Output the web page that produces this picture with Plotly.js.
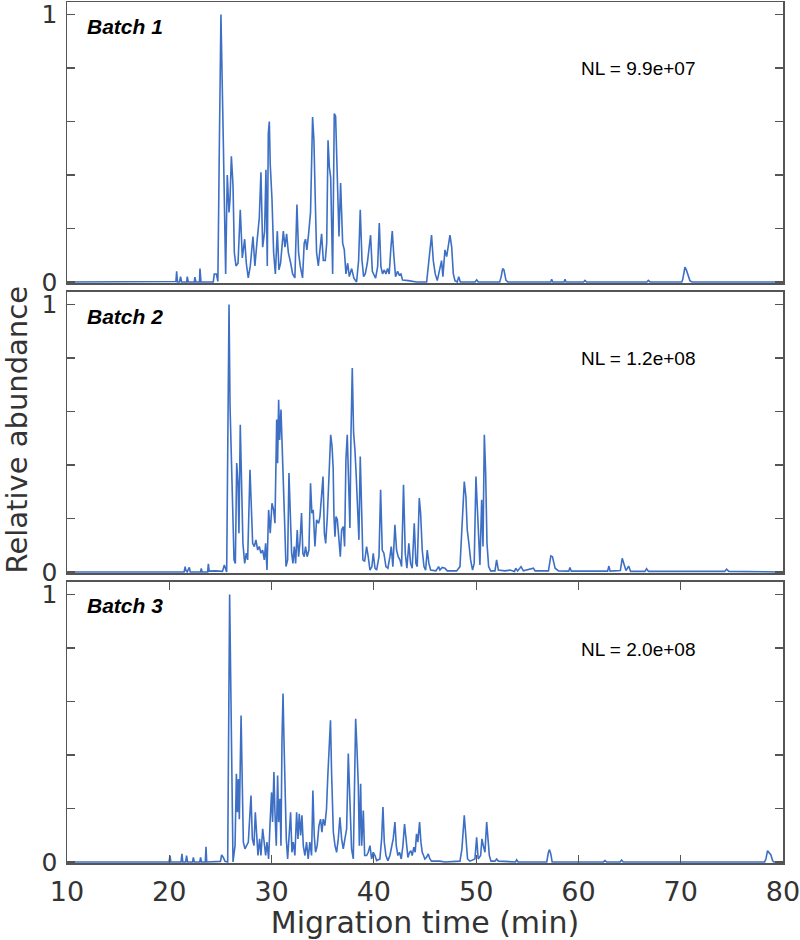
<!DOCTYPE html>
<html>
<head>
<meta charset="utf-8">
<script src="https://cdn.plot.ly/plotly-3.0.1.min.js"></script>
<style>html,body{margin:0;padding:0;background:#fff;}#chart{width:800px;height:940px;}</style>
</head>
<body>
<div id="chart"></div>
<script>
// ---------- Data ----------
const batchNames = ["Batch 1", "Batch 2", "Batch 3"];
const normLevels = ["NL = 9.9e+07", "NL = 1.2e+08", "NL = 2.0e+08"];
const xTickVals = [10, 20, 30, 40, 50, 60, 70, 80];
const yTickVals = [0, 0.2, 0.4, 0.6, 0.8, 1];
const yTickText = ["0", "", "", "", "", "1"];
const xTitle = "Migration time (min)";
const yTitle = "Relative abundance";

const time1 = [10,20.5,20.65,20.72,20.8,21.0,21.1,21.2,21.7,21.76,21.85,22.45,22.5,22.6,22.95,23.0,23.1,24.3,24.4,24.6,24.75,24.9,25.05,25.28,25.51,25.67,25.84,25.94,26.07,26.23,26.36,26.52,26.72,26.94,27.14,27.37,27.53,27.72,27.92,28.18,28.37,28.6,28.8,28.96,29.13,29.32,29.45,29.58,29.68,29.78,29.87,30.04,30.2,30.37,30.56,30.72,30.88,31.15,31.31,31.47,31.64,31.87,32.06,32.28,32.48,32.64,32.8,33.03,33.19,33.32,33.45,33.62,33.81,34.01,34.14,34.27,34.4,34.57,34.73,34.89,35.06,35.25,35.39,35.52,35.65,35.78,35.97,36.13,36.26,36.43,36.59,36.75,36.85,36.95,37.11,37.27,37.44,37.6,37.83,38.05,38.31,38.51,38.67,38.84,39.0,39.16,39.36,39.52,39.68,39.85,40.0,40.17,40.37,40.53,40.69,40.85,41.02,41.18,41.34,41.5,41.67,41.8,41.96,42.12,42.32,42.48,42.65,42.81,43.37,44.18,45.16,45.42,45.64,45.81,46.0,46.2,46.46,46.62,46.75,46.95,47.12,47.28,47.44,47.61,47.77,47.93,48.15,48.3,48.45,49.9,50.05,50.2,52.3,52.45,52.59,52.72,52.91,53.1,57.3,57.38,57.5,58.6,58.68,58.8,60.5,60.64,60.8,66.7,66.83,67.0,70.1,70.2,70.41,70.55,70.64,70.9,71.1,80];
const abund1 = [0,0,0.002,0.04,0,0,0.02,0,0,0.02,0,0,0.018,0,0,0.05,0,0,0.03,0.03,0.002,0.53,1.0,0.53,0.03,0.40,0.26,0.31,0.47,0.36,0.11,0.06,0.07,0.27,0.09,0.16,0.07,0.015,0.06,0.17,0.06,0.16,0.24,0.41,0.13,0.19,0.42,0.06,0.555,0.60,0.44,0.31,0.11,0.03,0.19,0.045,0.07,0.19,0.13,0.18,0.11,0.07,0.03,0.015,0.29,0.11,0.06,0.015,0.145,0.16,0.12,0.18,0.26,0.617,0.53,0.31,0.11,0.06,0.11,0.18,0.08,0.08,0.145,0.53,0.43,0.39,0.03,0.63,0.62,0.43,0.17,0.37,0.28,0.145,0.12,0.03,0.07,0.02,0.05,0.014,0.0,0.08,0.27,0.08,0.02,0.03,0.07,0.12,0.175,0.04,0.03,0.014,0.057,0.22,0.057,0.03,0.045,0.03,0.05,0.03,0.13,0.19,0.095,0.02,0.04,0.026,0.03,0.007,0.005,0.0,0.0,0.095,0.175,0.08,0.03,0.005,0.045,0.08,0.02,0.12,0.095,0.145,0.175,0.13,0.03,0.005,0.0,0.02,0.0,0.0,0.008,0.0,0.0,0.02,0.05,0.045,0.007,0.0,0.0,0.01,0.0,0.0,0.01,0.0,0.0,0.006,0.0,0.0,0.006,0.0,0.0,0.01,0.055,0.045,0.035,0.005,0.0,0];

const time2 = [10,21.45,21.55,21.63,21.75,21.96,22.05,23.05,23.13,23.2,23.75,23.82,23.9,24.5,25.2,25.38,25.61,25.74,25.84,25.94,26.04,26.2,26.33,26.46,26.59,26.72,26.81,26.94,27.07,27.2,27.37,27.53,27.66,27.76,27.89,28.02,28.15,28.31,28.47,28.64,28.8,28.96,29.13,29.29,29.42,29.55,29.71,29.87,30.04,30.2,30.33,30.5,30.59,30.69,30.79,30.92,31.02,31.15,31.28,31.41,31.57,31.7,31.83,31.96,32.09,32.22,32.35,32.51,32.64,32.77,32.93,33.06,33.19,33.32,33.48,33.65,33.81,33.94,34.07,34.24,34.4,34.6,34.73,34.86,35.03,35.16,35.29,35.45,35.62,35.78,35.91,36.02,36.1,36.2,36.3,36.43,36.59,36.72,36.85,37.01,37.14,37.27,37.4,37.53,37.66,37.76,37.89,38.02,38.15,38.28,38.41,38.54,38.67,38.8,38.93,39.1,39.29,39.45,39.62,39.81,39.94,40.11,40.27,40.5,40.66,40.82,40.98,41.18,41.37,41.57,41.7,41.86,42.06,42.22,42.38,42.55,42.71,42.9,43.07,43.23,43.42,43.59,43.75,43.95,44.11,44.24,44.44,44.57,44.73,44.9,45.06,45.22,45.38,45.55,46.07,46.33,46.46,46.69,46.95,47.18,48.09,48.42,48.61,48.84,49.0,49.13,49.29,49.46,49.65,49.81,49.98,50.11,50.24,50.37,50.54,50.67,50.8,50.93,51.06,51.22,51.42,51.84,52.0,52.17,52.82,53.31,53.75,53.87,54.06,54.39,54.62,55.6,55.76,57.07,57.3,57.46,57.72,58.05,59.05,59.17,59.3,62.85,62.98,63.1,64.1,64.28,64.45,64.65,64.91,65.1,66.5,66.66,66.85,74.3,74.48,74.7,80];
const abund2 = [0,0,0.02,0.005,0,0.017,0,0,0.013,0,0,0.03,0.003,0.004,0.002,0.026,0,0.557,1.0,0.62,0.457,0.307,0.045,0.032,0.407,0.332,0.145,0.55,0.357,0.107,0.032,0.07,0.045,0.182,0.382,0.245,0.107,0.095,0.12,0.082,0.095,0.07,0.082,0.045,0.107,0.007,0.232,0.145,0.257,0.232,0.182,0.57,0.407,0.644,0.494,0.607,0.507,0.357,0.182,0.02,0.045,0.37,0.182,0.07,0.032,0.095,0.032,0.157,0.057,0.107,0.22,0.07,0.057,0.095,0.057,0.082,0.332,0.22,0.232,0.095,0.195,0.182,0.207,0.282,0.357,0.145,0.107,0.207,0.407,0.513,0.47,0.39,0.207,0.132,0.207,0.195,0.12,0.057,0.157,0.17,0.095,0.42,0.513,0.357,0.164,0.507,0.763,0.52,0.457,0.357,0.207,0.12,0.432,0.245,0.045,0.039,0.095,0.057,0.007,0.02,0.07,0.014,0.007,0.057,0.307,0.082,0.07,0.02,0.014,0.057,0.095,0.02,0.176,0.082,0.057,0.045,0.02,0.326,0.07,0.014,0.107,0.032,0.014,0.182,0.032,0.02,0.276,0.22,0.082,0.02,0.007,0.082,0.032,0.007,0.004,0.02,0.007,0.017,0.014,0.004,0.004,0.02,0.182,0.338,0.282,0.157,0.107,0.045,0.007,0.032,0.357,0.232,0.082,0.026,0.27,0.095,0.513,0.37,0.107,0.02,0.004,0.004,0.045,0.007,0.004,0.007,0.002,0.014,0.004,0.02,0.004,0.014,0.004,0.004,0.06,0.057,0.014,0.004,0.003,0.017,0.003,0.003,0.022,0.003,0.005,0.051,0.03,0.005,0.022,0.002,0.002,0.012,0.002,0.002,0.01,0.002,0];

const time3 = [10,19.98,20.07,20.15,21.15,21.24,21.32,21.6,21.69,21.78,22.28,22.35,22.45,22.98,23.06,23.15,23.52,23.59,23.66,25.0,25.12,25.28,25.45,25.71,25.9,26.07,26.23,26.43,26.56,26.66,26.75,26.85,27.02,27.14,27.24,27.4,27.56,27.73,27.89,27.99,28.12,28.28,28.41,28.54,28.67,28.83,28.96,29.13,29.26,29.42,29.55,29.71,29.87,30.0,30.1,30.23,30.33,30.46,30.59,30.69,30.82,30.92,31.02,31.12,31.21,31.34,31.44,31.57,31.7,31.86,31.99,32.12,32.28,32.45,32.58,32.71,32.84,32.97,33.1,33.26,33.42,33.58,33.74,33.91,34.04,34.17,34.3,34.46,34.63,34.79,34.92,35.05,35.21,35.37,35.5,35.63,35.76,35.87,36.04,36.2,36.36,36.52,36.68,36.85,37.01,37.17,37.34,37.5,37.66,37.82,37.99,38.12,38.22,38.35,38.48,38.58,38.71,38.81,38.97,39.1,39.29,39.45,39.62,39.78,39.94,40.11,40.27,40.59,40.76,40.89,41.02,41.18,41.37,41.57,41.73,41.89,42.06,42.19,42.35,42.51,42.68,42.84,43.0,43.17,43.33,43.49,43.62,43.75,43.91,44.04,44.17,44.3,44.47,44.6,44.73,44.86,44.99,45.15,45.32,45.48,45.64,46.46,46.95,48.42,48.61,48.84,49.0,49.16,49.39,49.88,50.05,50.2,50.44,50.57,50.7,50.86,51.03,51.16,51.29,51.45,51.84,52.0,52.17,53.85,53.96,54.1,56.9,57.07,57.17,57.3,57.43,62.45,62.59,62.75,64.08,64.22,64.38,78.2,78.33,78.49,78.65,78.82,78.98,79.1,80];
const abund3 = [0,0,0.024,0,0,0.03,0,0,0.024,0,0,0.017,0,0,0.017,0,0,0.057,0,0.002,0.026,0.017,0.002,0,1.0,0.436,0,0.061,0.33,0.186,0.31,0.16,0.548,0.286,0.074,0.049,0.061,0.074,0.186,0.248,0.086,0.061,0.186,0.111,0.024,0.086,0.024,0.124,0.074,0.024,0.074,0.011,0.16,0.26,0.149,0.336,0.186,0.061,0.323,0.149,0.236,0.061,0.46,0.63,0.46,0.248,0.086,0.011,0.074,0.186,0.036,0.074,0.024,0.186,0.086,0.18,0.099,0.174,0.061,0.024,0.074,0.011,0.074,0.024,0.267,0.099,0.036,0.061,0.136,0.16,0.111,0.16,0.136,0.198,0.323,0.436,0.53,0.33,0.111,0.061,0.036,0.086,0.167,0.086,0.049,0.086,0.124,0.405,0.2,0.049,0.011,0.36,0.535,0.423,0.286,0.061,0.292,0.061,0.192,0.024,0.024,0.036,0.061,0.011,0.036,0.024,0.005,0.011,0.086,0.205,0.074,0.024,0.005,0.024,0.061,0.086,0.149,0.061,0.024,0.036,0.011,0.061,0.142,0.061,0.017,0.036,0.042,0.024,0.055,0.036,0.105,0.074,0.149,0.074,0.036,0.024,0.011,0.017,0.03,0.011,0.003,0.003,0,0.003,0.049,0.174,0.086,0.011,0.003,0.011,0.092,0.011,0.024,0.086,0.061,0.036,0.149,0.074,0.024,0.003,0.003,0.011,0.003,0.0,0.008,0.0,0.0,0.036,0.046,0.03,0.0,0.0,0.005,0.0,0.0,0.007,0.0,0.0,0.011,0.042,0.036,0.026,0.005,0.0,0];

// ---------- Styling ----------
const lineColor = '#3d6fc5';
const frameColor = '#555555';
const textColor = '#333333';
const labelFont = 'Liberation Sans, Arial, Helvetica, sans-serif';
const axisFont = 'DejaVu Sans, Liberation Sans, Arial, sans-serif';

const times = [time1, time2, time3];
const abunds = [abund1, abund2, abund3];
const axSuffix = ['', '2', '3'];

const traces = times.map((t, i) => ({
  type: 'scatter', mode: 'lines',
  x: t, y: abunds[i],
  xaxis: 'x' + axSuffix[i], yaxis: 'y' + axSuffix[i],
  line: {color: lineColor, width: 1.6},
  hoverinfo: 'x+y', name: batchNames[i]
}));

// panel geometry in paper fraction
const domains = [[0.6736, 1.0], [0.3368, 0.6632], [0.0, 0.3264]];
const yRange = [-0.004, 1.047];

function yAxis(i) {
  return {
    domain: domains[i], anchor: 'x' + axSuffix[i], range: yRange,
    tickmode: 'array', tickvals: yTickVals, ticktext: yTickText,
    ticks: 'inside', ticklen: 8, tickwidth: 1.2, tickcolor: frameColor,
    showline: true, linecolor: frameColor, linewidth: 1.5, mirror: 'ticks',
    showgrid: false, zeroline: false, fixedrange: true,
    tickfont: {size: 25, color: textColor, family: axisFont},
    ticklabelstandoff: 3, ticklabeloverflow: 'allow'
  };
}
function xAxis(i) {
  const ax = {
    anchor: 'y' + axSuffix[i], range: [10, 80], domain: [0, 1],
    showline: true, linecolor: frameColor, linewidth: 1.5, mirror: true,
    showgrid: false, zeroline: false, fixedrange: true,
    ticks: '', showticklabels: false
  };
  if (i === 2) {
    Object.assign(ax, {
      tickmode: 'array', tickvals: xTickVals, ticktext: xTickVals.map(String),
      ticks: 'inside', ticklen: 8, tickwidth: 1.2, tickcolor: frameColor,
      mirror: 'ticks', showticklabels: true, ticklabeloverflow: 'allow',
      tickfont: {size: 27, color: textColor, family: axisFont},
      ticklabelstandoff: 4,
      title: {text: xTitle, font: {size: 30, color: textColor, family: axisFont}, standoff: 2}
    });
  } else {
    ax.matches = 'x3';
  }
  return ax;
}

// label positions (paper fraction) for each panel
const batchLabelY = [0.9721, 0.6353, 0.2985];
const nlLabelY = [0.9233, 0.5854, 0.2485];

const annotations = [];
batchNames.forEach((b, i) => {
  annotations.push({
    xref: 'paper', yref: 'paper', x: 0.0251, y: batchLabelY[i],
    xanchor: 'left', yanchor: 'middle', showarrow: false,
    text: '<b><i>' + b + '</i></b>',
    font: {size: 21, color: '#000', family: labelFont}
  });
  annotations.push({
    xref: 'paper', yref: 'paper', x: 0.715, y: nlLabelY[i],
    xanchor: 'left', yanchor: 'middle', showarrow: false,
    text: normLevels[i],
    font: {size: 19, color: '#000', family: labelFont}
  });
});
// y-axis title shared by the three panels
annotations.push({
  xref: 'paper', yref: 'paper', x: -0.0705, y: 0.503,
  xanchor: 'center', yanchor: 'middle', showarrow: false,
  textangle: -90, text: yTitle,
  font: {size: 29, color: textColor, family: axisFont}
});

const layout = {
  width: 800, height: 940,
  margin: {l: 67, r: 17, t: 2, b: 77},
  paper_bgcolor: '#ffffff', plot_bgcolor: '#ffffff',
  showlegend: false,
  font: {family: axisFont, color: textColor},
  xaxis: xAxis(0), xaxis2: xAxis(1), xaxis3: xAxis(2),
  yaxis: yAxis(0), yaxis2: yAxis(1), yaxis3: yAxis(2),
  annotations: annotations
};

Plotly.newPlot('chart', traces, layout, {displayModeBar: false, staticPlot: true});
</script>
</body>
</html>
